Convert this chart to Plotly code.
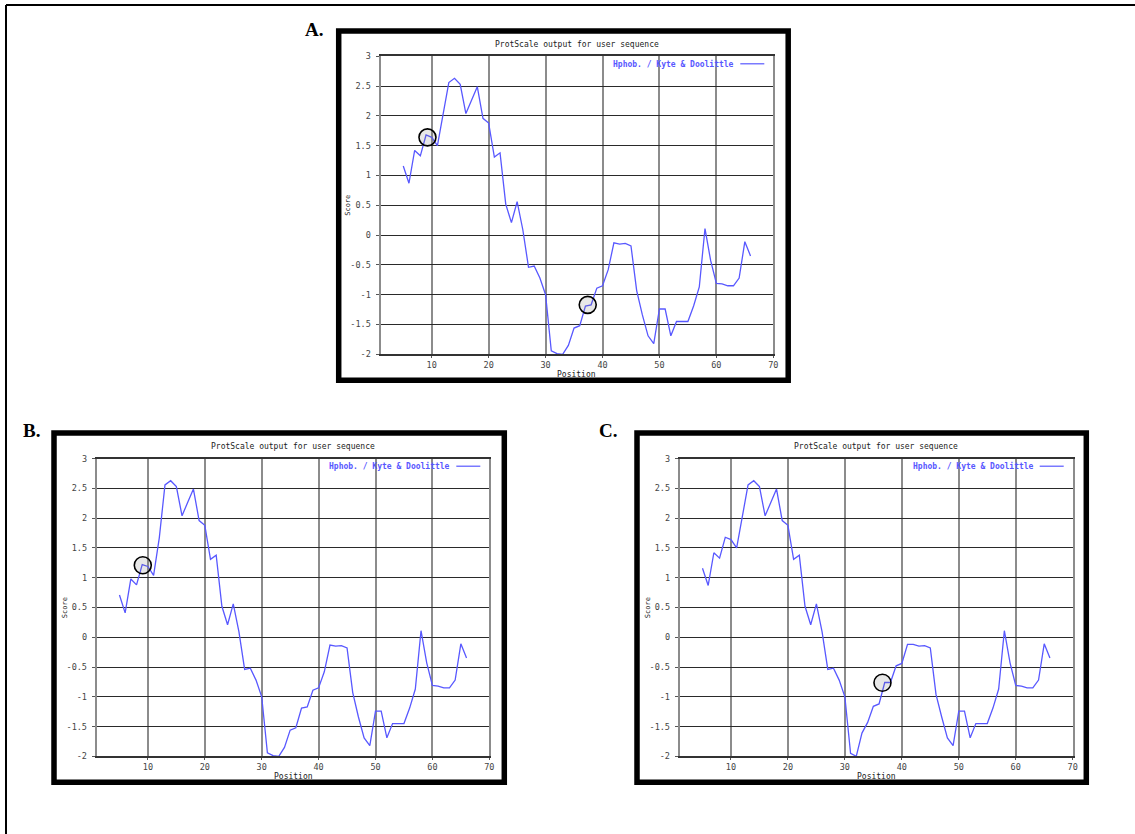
import plotly.graph_objects as go

W, H = 1135, 834

# ---------------- data ----------------
positions = [5, 6, 7, 8, 9, 10, 11, 12, 13, 14, 15, 16, 17, 18, 19, 20, 21, 22, 23, 24,
             25, 26, 27, 28, 29, 30, 31, 32, 33, 34, 35, 36, 37, 38, 39, 40, 41, 42, 43, 44,
             45, 46, 47, 48, 49, 50, 51, 52, 53, 54, 55, 56, 57, 58, 59, 60, 61, 62, 63, 64,
             65, 66]

score_a = [1.16, 0.87, 1.42, 1.33, 1.68, 1.64, 1.50, 2.04, 2.56, 2.63, 2.53, 2.04, 2.27, 2.49,
           1.96, 1.88, 1.31, 1.38, 0.52, 0.21, 0.56, 0.09, -0.54, -0.52, -0.72, -1.00, -1.94,
           -1.99, -2.00, -1.85, -1.56, -1.52, -1.19, -1.17, -0.89, -0.85, -0.58, -0.13, -0.15,
           -0.14, -0.18, -0.93, -1.34, -1.69, -1.82, -1.24, -1.24, -1.69, -1.45, -1.45, -1.45,
           -1.19, -0.87, 0.11, -0.43, -0.81, -0.82, -0.85, -0.85, -0.72, -0.11, -0.35]

score_b = [0.71, 0.41, 0.98, 0.88, 1.22, 1.19, 1.04, 1.67, 2.56, 2.63, 2.53, 2.04, 2.27, 2.49,
           1.96, 1.88, 1.31, 1.38, 0.52, 0.21, 0.56, 0.09, -0.54, -0.52, -0.72, -1.00, -1.94,
           -1.99, -2.00, -1.85, -1.56, -1.52, -1.19, -1.17, -0.89, -0.85, -0.58, -0.13, -0.15,
           -0.14, -0.18, -0.93, -1.34, -1.69, -1.82, -1.24, -1.24, -1.69, -1.45, -1.45, -1.45,
           -1.19, -0.87, 0.11, -0.43, -0.81, -0.82, -0.85, -0.85, -0.72, -0.11, -0.35]

score_c = [1.16, 0.87, 1.42, 1.33, 1.68, 1.64, 1.50, 2.04, 2.56, 2.63, 2.53, 2.04, 2.27, 2.49,
           1.96, 1.88, 1.31, 1.38, 0.52, 0.21, 0.56, 0.09, -0.54, -0.52, -0.72, -1.00, -1.95,
           -2.00, -1.61, -1.43, -1.16, -1.12, -0.76, -0.76, -0.48, -0.44, -0.12, -0.12, -0.15,
           -0.14, -0.18, -0.96, -1.34, -1.69, -1.82, -1.24, -1.24, -1.69, -1.45, -1.45, -1.45,
           -1.19, -0.87, 0.11, -0.43, -0.81, -0.82, -0.85, -0.85, -0.72, -0.11, -0.35]

# highlighted points (position, score) per panel
highlights_a = [(9.25, 1.64), (37.4, -1.17)]
highlights_b = [(9.1, 1.21)]
highlights_c = [(36.6, -0.765)]

x_tickvals = [10, 20, 30, 40, 50, 60, 70]
x_ticktext = ["10", "20", "30", "40", "50", "60", "70"]
y_tickvals = [3, 2.5, 2, 1.5, 1, 0.5, 0, -0.5, -1, -1.5, -2]
y_ticktext = ["3", "2.5", "2", "1.5", "1", "0.5", "0", "-0.5", "-1", "-1.5", "-2"]

chart_title = "ProtScale output for user sequence"
series_name = "Hphob. / Kyte & Doolittle"
panel_labels = ["A.", "B.", "C."]

# ---------------- layout geometry (pixels) ----------------
plot_px = [
    (380.5, 773.3, 56.3, 354.3),
    (96.7, 489.3, 458.7, 756.3),
    (679.7, 1072.7, 458.7, 756.3),
]
frame_px = [
    (338.7, 788.2, 31.0, 380.2),
    (54.0, 504.3, 433.0, 782.3),
    (637.0, 1086.3, 433.0, 782.3),
]
label_px = [(314, 29), (31, 430), (608, 430)]

def px(x):
    return x / W

def py(y):
    return 1 - y / H

LINE_COLOR = "#5858ff"
MONO = "DejaVu Sans Mono, monospace"

fig = go.Figure()
series = [score_a, score_b, score_c]
highlights = [highlights_a, highlights_b, highlights_c]

shapes = []
annotations = []

for i in range(3):
    sfx = "" if i == 0 else str(i + 1)
    l, r, t, b = plot_px[i]
    fig.add_trace(go.Scatter(
        x=positions, y=series[i], mode="lines", name=series_name,
        line=dict(color=LINE_COLOR, width=1.3), showlegend=False,
        xaxis="x" + sfx, yaxis="y" + sfx, hoverinfo="x+y",
    ))
    xa = dict(
        domain=[px(l), px(r)], range=[1, 70], anchor="y" + sfx,
        tickvals=x_tickvals, ticktext=x_ticktext,
        showgrid=True, gridcolor="#8c8c8c", gridwidth=2,
        showline=True, linecolor="#333333", linewidth=1.5, mirror=True,
        zeroline=False, ticks="outside", ticklen=2, tickcolor="#555555",
        tickfont=dict(family=MONO, size=8.5, color="#444444"),
        fixedrange=True, automargin=False,
    )
    ya = dict(
        domain=[py(b), py(t)], range=[-2, 3], anchor="x" + sfx,
        tickvals=y_tickvals, ticktext=y_ticktext,
        showgrid=True, gridcolor="#2a2a2a", gridwidth=1.2,
        showline=True, linecolor="#8c8c8c", linewidth=2, mirror=True,
        zeroline=False, ticks="outside", ticklen=3, tickcolor="#555555",
        ticklabelstandoff=3,
        tickfont=dict(family=MONO, size=8.5, color="#444444"),
        fixedrange=True, automargin=False,
    )
    fig.update_layout(**{"xaxis" + sfx: xa, "yaxis" + sfx: ya})

    cx = (l + r) / 2
    annotations.append(dict(text=chart_title, x=px(cx), y=py(t - 12), xref="paper", yref="paper",
                            showarrow=False, xanchor="center", yanchor="middle",
                            font=dict(family=MONO, size=8, color="#222222")))
    annotations.append(dict(text="Position", x=px(cx), y=py(b + 20), xref="paper", yref="paper",
                            showarrow=False, xanchor="center", yanchor="middle",
                            font=dict(family=MONO, size=8, color="#222222")))
    annotations.append(dict(text="Score", x=px(l - 32), y=py((t + b) / 2), xref="paper", yref="paper",
                            showarrow=False, xanchor="center", yanchor="middle", textangle=-90,
                            font=dict(family=MONO, size=7, color="#222222")))
    annotations.append(dict(text="<b>" + series_name.replace("&", "&amp;") + "</b>",
                            x=px(r - 37), y=py(t + 7.5), xref="paper", yref="paper",
                            showarrow=False, xanchor="right", yanchor="middle",
                            font=dict(family=MONO, size=8, color=LINE_COLOR)))
    shapes.append(dict(type="line", xref="paper", yref="paper",
                       x0=px(r - 33), x1=px(r - 9), y0=py(t + 7.5), y1=py(t + 7.5),
                       line=dict(color=LINE_COLOR, width=1.2)))
    fl, fr, ft, fb = frame_px[i]
    shapes.append(dict(type="rect", xref="paper", yref="paper",
                       x0=px(fl), x1=px(fr), y0=py(fb), y1=py(ft),
                       line=dict(color="black", width=5.5), fillcolor="rgba(0,0,0,0)"))
    for hx, hy in highlights[i]:
        shapes.append(dict(type="circle", xref="x" + sfx, yref="y" + sfx,
                           xsizemode="pixel", ysizemode="pixel",
                           xanchor=hx, yanchor=hy, x0=-8.5, x1=8.5, y0=-8.5, y1=8.5,
                           line=dict(color="black", width=1.6),
                           fillcolor="rgba(120,120,120,0.18)"))
    lx, ly = label_px[i]
    annotations.append(dict(text="<b>" + panel_labels[i] + "</b>", x=px(lx), y=py(ly),
                            xref="paper", yref="paper", showarrow=False,
                            xanchor="center", yanchor="middle",
                            font=dict(family="Liberation Serif, serif", size=19, color="black")))

shapes.append(dict(type="line", xref="paper", yref="paper", x0=px(6), x1=1, y0=py(5), y1=py(5),
                   line=dict(color="black", width=2)))
shapes.append(dict(type="line", xref="paper", yref="paper", x0=px(6), x1=px(6), y0=0, y1=py(5),
                   line=dict(color="black", width=2)))

fig.update_layout(
    width=W, height=H, margin=dict(l=0, r=0, t=0, b=0, pad=0, autoexpand=False),
    paper_bgcolor="white", plot_bgcolor="white",
    shapes=shapes, annotations=annotations,
)

page_fix = (
    "var de=document.documentElement, bd=document.body;"
    "[de, bd].forEach(function(e){e.style.margin='0';e.style.padding='0';"
    "e.style.overflow='hidden';e.style.height='834px';e.style.width='1135px';"
    "e.style.fontSize='0';e.style.lineHeight='0';});"
    "var g=document.getElementsByClassName('plotly-graph-div')[0];"
    "g.style.position='fixed';g.style.left='0px';g.style.top='0px';"
)

fig.write_html("out.html", config={"displayModeBar": False}, post_script=page_fix)
